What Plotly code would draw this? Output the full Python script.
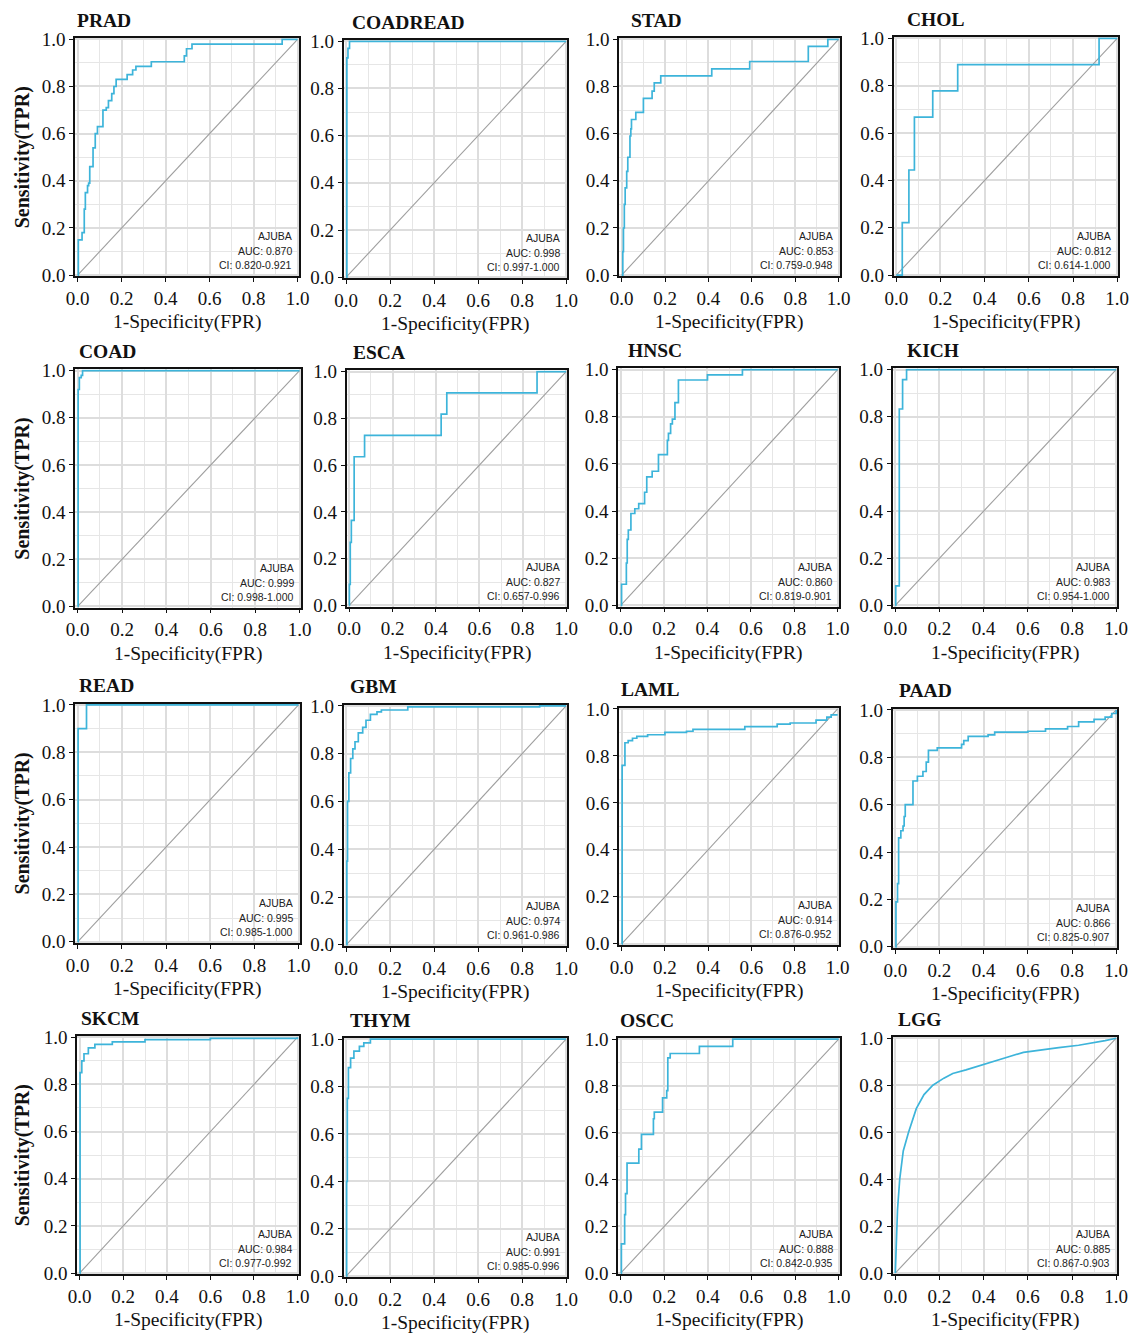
import plotly.graph_objects as go

# The page is photographed with an 8px body margin and a ~0.984 display scale,
# so picture-pixel targets are converted into figure coordinates below.
S = 0.984
OFF = 8
FW, FH = 1134, 1340

# ---------------- data ----------------
cancers = ["PRAD", "COADREAD", "STAD", "CHOL",
           "COAD", "ESCA", "HNSC", "KICH",
           "READ", "GBM", "LAML", "PAAD",
           "SKCM", "THYM", "OSCC", "LGG"]
gene = "AJUBA"
auc = [0.870, 0.998, 0.853, 0.812,
       0.999, 0.827, 0.860, 0.983,
       0.995, 0.974, 0.914, 0.866,
       0.984, 0.991, 0.888, 0.885]
ci_low = [0.820, 0.997, 0.759, 0.614,
          0.998, 0.657, 0.819, 0.954,
          0.985, 0.961, 0.876, 0.825,
          0.977, 0.985, 0.842, 0.867]
ci_high = [0.921, 1.000, 0.948, 1.000,
           1.000, 0.996, 0.901, 1.000,
           1.000, 0.986, 0.952, 0.907,
           0.992, 0.996, 0.935, 0.903]

PRAD_fpr = [0, 0.003, 0.02, 0.03, 0.035, 0.045, 0.05, 0.055, 0.07, 0.08, 0.09, 0.115, 0.13, 0.14,
            0.155, 0.165, 0.175, 0.225, 0.25, 0.265, 0.335, 0.485, 0.495, 0.52, 0.93, 1.0]
PRAD_tpr = [0, 0.15, 0.18, 0.28, 0.35, 0.38, 0.39, 0.46, 0.54, 0.60, 0.63, 0.70, 0.71, 0.74,
            0.77, 0.80, 0.83, 0.85, 0.87, 0.885, 0.905, 0.93, 0.96, 0.98, 1.0, 1.0]

COADREAD_fpr = [0, 0.003, 0.008, 0.015, 1.0]
COADREAD_tpr = [0, 0.93, 0.97, 1.0, 1.0]

STAD_fpr = [0, 0.005, 0.008, 0.012, 0.016, 0.023, 0.028, 0.038, 0.042, 0.045, 0.065, 0.1, 0.14,
            0.15, 0.18, 0.415, 0.59, 0.86, 0.95, 1.0]
STAD_tpr = [0, 0.1, 0.2, 0.3, 0.37, 0.44, 0.5, 0.59, 0.62, 0.66, 0.69, 0.75, 0.78,
            0.815, 0.845, 0.875, 0.906, 0.97, 1.0, 1.0]

CHOL_fpr = [0, 0.027, 0.057, 0.082, 0.165, 0.278, 0.918, 1.0]
CHOL_tpr = [0, 0.222, 0.444, 0.667, 0.778, 0.889, 1.0, 1.0]

COAD_fpr = [0, 0.002, 0.0075, 0.016, 0.022, 1.0]
COAD_tpr = [0, 0.92, 0.97, 0.98, 1.0, 1.0]

ESCA_fpr = [0, 0.001, 0.005, 0.01, 0.023, 0.071, 0.424, 0.45, 0.866, 1.0]
ESCA_tpr = [0, 0.09, 0.27, 0.364, 0.636, 0.727, 0.818, 0.909, 1.0, 1.0]

HNSC_fpr = [0, 0.004, 0.026, 0.03, 0.035, 0.047, 0.065, 0.083, 0.11, 0.12, 0.145, 0.174, 0.215,
            0.22, 0.23, 0.238, 0.25, 0.266, 0.40, 0.561, 1.0]
HNSC_tpr = [0, 0.09, 0.18, 0.28, 0.32, 0.39, 0.41, 0.432, 0.48, 0.545, 0.569, 0.64, 0.70,
            0.73, 0.77, 0.79, 0.86, 0.956, 0.978, 1.0, 1.0]

KICH_fpr = [0, 0.002, 0.018, 0.033, 0.051, 1.0]
KICH_tpr = [0, 0.083, 0.833, 0.958, 1.0, 1.0]

READ_fpr = [0, 0.002, 0.04, 1.0]
READ_tpr = [0, 0.9, 1.0, 1.0]

GBM_fpr = [0, 0.003, 0.006, 0.012, 0.02, 0.03, 0.04, 0.055, 0.075, 0.09, 0.11, 0.14, 0.16, 0.28, 0.88, 1.0]
GBM_tpr = [0, 0.35, 0.6, 0.72, 0.78, 0.82, 0.85, 0.887, 0.91, 0.94, 0.965, 0.975, 0.983, 0.996, 1.0, 1.0]

LAML_fpr = [0, 0.002, 0.015, 0.03, 0.05, 0.07, 0.12, 0.2, 0.3, 0.33, 0.57, 0.72, 0.78, 0.9, 0.95, 0.97, 1.0]
LAML_tpr = [0, 0.76, 0.856, 0.865, 0.875, 0.883, 0.89, 0.90, 0.905, 0.913, 0.925, 0.935, 0.94, 0.952,
            0.965, 0.975, 0.975]

PAAD_fpr = [0, 0.003, 0.01, 0.015, 0.025, 0.035, 0.04, 0.045, 0.08, 0.1, 0.125, 0.14, 0.15, 0.19,
            0.3, 0.31, 0.33, 0.42, 0.45, 0.6, 0.68, 0.78, 0.83, 0.9, 0.95, 0.98, 1.0]
PAAD_tpr = [0, 0.19, 0.267, 0.46, 0.49, 0.51, 0.55, 0.60, 0.70, 0.72, 0.74, 0.78, 0.829, 0.84,
            0.855, 0.87, 0.888, 0.895, 0.906, 0.91, 0.92, 0.93, 0.95, 0.96, 0.97, 0.985, 1.0]

SKCM_fpr = [0, 0.002, 0.01, 0.02, 0.04, 0.07, 0.15, 0.3, 0.6, 1.0]
SKCM_tpr = [0, 0.85, 0.9, 0.93, 0.955, 0.97, 0.98, 0.99, 0.995, 1.0]

THYM_fpr = [0, 0.002, 0.005, 0.01, 0.02, 0.035, 0.06, 0.08, 0.11, 1.0]
THYM_tpr = [0, 0.4, 0.75, 0.88, 0.92, 0.95, 0.97, 0.985, 1.0, 1.0]

OSCC_fpr = [0, 0.003, 0.018, 0.022, 0.029, 0.083, 0.095, 0.15, 0.154, 0.192, 0.211, 0.216, 0.227,
            0.361, 0.514, 1.0]
OSCC_tpr = [0, 0.125, 0.25, 0.34, 0.47, 0.53, 0.593, 0.66, 0.688, 0.749, 0.78, 0.92, 0.939,
            0.969, 1.0, 1.0]

LGG_fpr = [0, 0.005, 0.01, 0.02, 0.036, 0.06, 0.095, 0.13, 0.17, 0.22, 0.26, 0.32, 0.375, 0.44,
           0.51, 0.58, 0.65, 0.74, 0.83, 0.9, 0.95, 1.0]
LGG_tpr = [0, 0.15, 0.27, 0.4, 0.52, 0.6, 0.7, 0.76, 0.8, 0.83, 0.85, 0.865, 0.88, 0.9,
           0.92, 0.94, 0.95, 0.96, 0.97, 0.98, 0.99, 1.0]

roc = {
    "PRAD": (PRAD_fpr, PRAD_tpr), "COADREAD": (COADREAD_fpr, COADREAD_tpr),
    "STAD": (STAD_fpr, STAD_tpr), "CHOL": (CHOL_fpr, CHOL_tpr),
    "COAD": (COAD_fpr, COAD_tpr), "ESCA": (ESCA_fpr, ESCA_tpr),
    "HNSC": (HNSC_fpr, HNSC_tpr), "KICH": (KICH_fpr, KICH_tpr),
    "READ": (READ_fpr, READ_tpr), "GBM": (GBM_fpr, GBM_tpr),
    "LAML": (LAML_fpr, LAML_tpr), "PAAD": (PAAD_fpr, PAAD_tpr),
    "SKCM": (SKCM_fpr, SKCM_tpr), "THYM": (THYM_fpr, THYM_tpr),
    "OSCC": (OSCC_fpr, OSCC_tpr), "LGG": (LGG_fpr, LGG_tpr),
}
tick_vals = [0, 0.2, 0.4, 0.6, 0.8, 1.0]
tick_text = ["0.0", "0.2", "0.4", "0.6", "0.8", "1.0"]

# ---------------- layout (target picture pixels: left, right, top, bottom) ----------------
frames = [
    (74, 298, 38, 276), (343, 567, 40, 278), (619, 840, 38, 276), (894, 1119, 37, 276),
    (74, 300, 369, 607), (346, 567, 370, 606), (618, 839, 368, 606), (893, 1118, 368, 606),
    (74, 299, 703, 942), (343, 567, 704, 945), (619, 839, 707, 944), (893, 1118, 708, 947),
    (76, 298, 1035, 1273), (343, 567, 1037, 1276), (618, 840, 1037, 1273), (893, 1118, 1036, 1273),
]
title_left = [74, 349, 629, 905, 76, 350, 626, 905, 76, 347, 619, 897, 78, 347, 618, 896]
shapes_line = ["hv"] * 15 + ["linear"]


def px_x(p):
    return (p / S - OFF) / FW


def px_y(p):
    p = p - 1 - 0.0017 * p      # small measured vertical drift correction
    return 1 - (p / S - OFF) / FH


ROC_COLOR = "#3DB4DA"
DIAG_COLOR = "#9E9E9E"
SERIF = "Liberation Serif, Times New Roman, serif"
SANS = "Liberation Sans, Arial, sans-serif"

fig = go.Figure()
annotations = []
layout_axes = {}

for i, name in enumerate(cancers):
    x0, x1, y0, y1 = frames[i]
    xa = "x" if i == 0 else f"x{i+1}"
    ya = "y" if i == 0 else f"y{i+1}"
    fpr, tpr = roc[name]

    fig.add_trace(go.Scatter(x=[0, 1], y=[0, 1], mode="lines", xaxis=xa, yaxis=ya,
                             line=dict(color=DIAG_COLOR, width=1.1), hoverinfo="skip",
                             showlegend=False))
    fig.add_trace(go.Scatter(x=fpr, y=tpr, mode="lines", xaxis=xa, yaxis=ya,
                             line=dict(color=ROC_COLOR, width=1.7, shape=shapes_line[i]),
                             showlegend=False))

    common = dict(
        tickvals=tick_vals, ticktext=tick_text,
        ticks="outside", ticklen=4, tickwidth=1.2, tickcolor="#111",
        showline=True, linecolor="#111", linewidth=1.5, mirror=True,
        showgrid=True, gridcolor="#DDDDDD", gridwidth=1.6,
        minor=dict(tick0=0, dtick=0.1, showgrid=True, gridcolor="#E6E6E6", gridwidth=1.2, ticks=""),
        zeroline=False, fixedrange=True,
        tickfont=dict(family=SERIF, size=19, color="#111"),
    )
    layout_axes["xaxis" if i == 0 else f"xaxis{i+1}"] = dict(
        common, domain=[px_x(x0), px_x(x1)], range=[-0.012, 1.005], anchor=ya)
    layout_axes["yaxis" if i == 0 else f"yaxis{i+1}"] = dict(
        common, domain=[px_y(y1), px_y(y0)], range=[-0.005, 1.005], anchor=xa)

    # panel title
    annotations.append(dict(text=f"<b>{name}</b>", x=px_x(title_left[i]), y=px_y(y0 - 18),
                            xref="paper", yref="paper", xanchor="left", yanchor="middle",
                            showarrow=False, font=dict(family=SERIF, size=19.5, color="#111")))
    # x title
    annotations.append(dict(text="1-Specificity(FPR)", x=px_x((x0 + x1) / 2), y=px_y(y1 + 46),
                            xref="paper", yref="paper", xanchor="center", yanchor="middle",
                            showarrow=False, font=dict(family=SERIF, size=19.5, color="#111")))
    # y title (first column)
    if i % 4 == 0:
        annotations.append(dict(text="<b>Sensitivity(TPR)</b>", x=px_x(21), y=px_y((y0 + y1) / 2),
                                xref="paper", yref="paper", xanchor="center", yanchor="middle",
                                textangle=-90, showarrow=False,
                                font=dict(family=SERIF, size=20, color="#111")))
    # AUC text
    lines = [gene, f"AUC: {auc[i]:.3f}", f"CI: {ci_low[i]:.3f}-{ci_high[i]:.3f}"]
    offs = [40, 25, 11]
    for t, o in zip(lines, offs):
        annotations.append(dict(text=t, x=px_x(x1 - 5), y=px_y(y1 - o),
                                xref="paper", yref="paper", xanchor="right", yanchor="middle",
                                showarrow=False, font=dict(family=SANS, size=10.5, color="#222")))

fig.update_layout(
    width=FW, height=FH, margin=dict(l=0, r=0, t=0, b=0),
    paper_bgcolor="white", plot_bgcolor="white",
    annotations=annotations, **layout_axes,
)

fig.write_html("out.html")
